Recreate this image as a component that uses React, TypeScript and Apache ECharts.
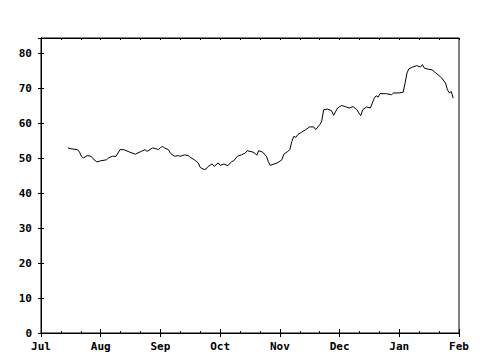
import React, { useEffect, useRef } from "react";
import * as echarts from "echarts";

const monthLabels = ["Jul", "Aug", "Sep", "Oct", "Nov", "Dec", "Jan", "Feb"];
const yTicks = [0, 10, 20, 30, 40, 50, 60, 70, 80];

const dates = [
  "2006-07-15", "2006-07-17", "2006-07-20", "2006-07-21", "2006-07-22", "2006-07-23", "2006-07-25", "2006-07-27", "2006-07-28", "2006-07-30",
  "2006-08-01", "2006-08-04", "2006-08-05", "2006-08-07", "2006-08-09", "2006-08-11", "2006-08-13", "2006-08-16", "2006-08-19", "2006-08-22",
  "2006-08-24", "2006-08-25", "2006-08-28", "2006-08-30", "2006-08-31",
  "2006-09-01", "2006-09-02", "2006-09-03", "2006-09-05", "2006-09-06", "2006-09-08", "2006-09-10", "2006-09-11", "2006-09-13", "2006-09-15",
  "2006-09-16", "2006-09-18", "2006-09-20", "2006-09-21", "2006-09-23", "2006-09-24", "2006-09-25", "2006-09-27", "2006-09-28", "2006-09-30",
  "2006-10-01", "2006-10-03", "2006-10-05", "2006-10-07", "2006-10-08", "2006-10-10", "2006-10-12", "2006-10-14", "2006-10-15", "2006-10-18",
  "2006-10-19", "2006-10-20", "2006-10-21", "2006-10-23", "2006-10-25", "2006-10-26", "2006-10-27", "2006-10-29", "2006-10-31",
  "2006-11-02", "2006-11-03", "2006-11-05", "2006-11-06", "2006-11-07", "2006-11-08", "2006-11-09", "2006-11-10", "2006-11-12", "2006-11-14",
  "2006-11-16", "2006-11-18", "2006-11-19", "2006-11-21", "2006-11-22", "2006-11-23", "2006-11-25", "2006-11-27", "2006-11-28", "2006-11-30",
  "2006-12-02", "2006-12-04", "2006-12-06", "2006-12-08", "2006-12-10", "2006-12-11", "2006-12-12", "2006-12-13", "2006-12-15", "2006-12-17",
  "2006-12-18", "2006-12-19", "2006-12-20", "2006-12-21", "2006-12-22", "2006-12-25", "2006-12-28", "2006-12-29",
  "2007-01-01", "2007-01-03", "2007-01-04", "2007-01-05", "2007-01-06", "2007-01-08", "2007-01-10", "2007-01-12", "2007-01-13", "2007-01-14",
  "2007-01-16", "2007-01-18", "2007-01-20", "2007-01-23", "2007-01-25", "2007-01-26", "2007-01-27", "2007-01-28", "2007-01-29",
];

const values = [
  52.9, 52.6, 52.4, 51.7, 50.5, 50.0, 50.7, 50.5, 49.8, 48.9,
  49.2, 49.5, 50.0, 50.5, 50.5, 52.4, 52.4, 51.7, 51.1, 51.9,
  52.4, 51.9, 52.9, 52.6, 52.4,
  53.0, 53.3, 52.9, 52.4, 51.4, 50.5, 50.7, 50.5, 50.9, 50.7,
  50.2, 49.5, 48.6, 47.3, 46.7, 46.9, 47.6, 48.3, 47.6, 48.6,
  47.9, 48.3, 47.8, 49.0, 49.2, 50.5, 50.9, 51.4, 52.1, 51.7,
  51.4, 50.8, 52.1, 51.7, 50.5, 49.0, 47.9, 48.3, 48.7,
  49.5, 51.1, 51.9, 52.4, 54.7, 56.2, 55.9, 56.7, 57.4, 58.1,
  58.9, 58.9, 58.1, 59.5, 60.5, 63.8, 64.0, 63.5, 62.2, 64.3,
  65.0, 64.7, 64.3, 64.7, 63.8, 62.9, 62.1, 63.8, 64.6, 64.3,
  65.7, 67.1, 67.8, 67.4, 68.4, 68.4, 68.1, 68.6,
  68.6, 68.8, 71.4, 74.3, 75.5, 76.0, 76.4, 76.0, 76.7, 75.7,
  75.4, 75.2, 74.3, 72.9, 71.4, 69.5, 68.6, 69.0, 67.1,
];

// position in "month units" from Jul 1 (each month drawn with equal width)
function monthPos(d: string): number {
  const [y, m, day] = d.split("-").map(Number);
  const idx = (y - 2006) * 12 + (m - 7);
  const dim = new Date(y, m, 0).getDate();
  return idx + (day - 1) / dim;
}

const FONT = "DejaVu Sans Mono";

export default function App() {
  const ref = useRef<HTMLDivElement>(null);
  useEffect(() => {
    if (!ref.current) return;
    const chart = echarts.init(ref.current, null, { renderer: "svg" });
    const data = dates.map((d, i) => [monthPos(d), values[i]]);
    const xMax = monthLabels.length - 1;
    const yMax = 84.3;
    const black = { color: "#000", width: 1 };
    const labelStyle = {
      color: "#000",
      fontFamily: FONT,
      fontWeight: "bold" as const,
      fontSize: 11,
    };
    const xAxisBase = (position: "top" | "bottom", interval: number, len: number, labels: boolean) => ({
      type: "value",
      min: 0,
      max: xMax,
      interval,
      position,
      axisLine: { show: true, lineStyle: black },
      axisTick: { show: true, inside: true, length: len, lineStyle: black },
      splitLine: { show: false },
      axisLabel: labels
        ? {
            ...labelStyle,
            margin: 8,
            formatter: (v: number) => monthLabels[Math.round(v)] ?? "",
          }
        : { show: false },
    });
    const yAxisBase = (position: "left" | "right", labels: boolean) => ({
      type: "value",
      min: 0,
      max: yMax,
      interval: 10,
      position,
      axisLine: { show: true, lineStyle: black },
      axisTick: { show: true, inside: true, length: 3, lineStyle: black },
      splitLine: { show: false },
      axisLabel: labels
        ? {
            ...labelStyle,
            margin: 9,
            formatter: (v: number) => (yTicks.includes(v) ? String(v) : ""),
          }
        : { show: false },
    });
    chart.setOption({
      animation: false,
      backgroundColor: "#fff",
      grid: {
        left: 41,
        right: 21,
        top: 38,
        bottom: 27,
        show: true,
        borderColor: "#000",
        borderWidth: 1,
      },
      xAxis: [
        xAxisBase("bottom", 1, 4, true),
        xAxisBase("top", 1, 4, false),
        xAxisBase("bottom", 1 / 3, 2, false),
        xAxisBase("top", 1 / 3, 2, false),
      ],
      yAxis: [yAxisBase("left", true), yAxisBase("right", false)],
      series: [
        {
          type: "line",
          xAxisIndex: 0,
          yAxisIndex: 0,
          data,
          showSymbol: false,
          symbol: "none",
          lineStyle: { color: "#000", width: 1 },
        },
      ],
    });
    return () => chart.dispose();
  }, []);
  return <div ref={ref} style={{ width: 480, height: 360, margin: -8 }} />;
}
